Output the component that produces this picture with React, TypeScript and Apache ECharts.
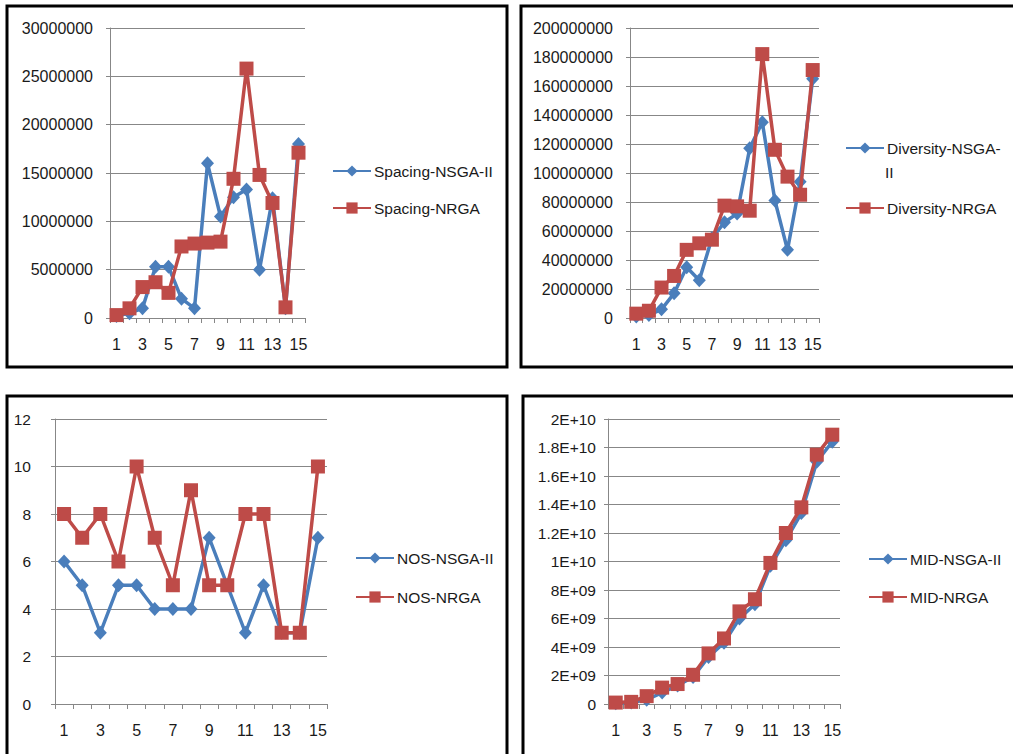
import React, { useEffect, useRef } from "react";
import * as echarts from "echarts";

const categories = ["1", "2", "3", "4", "5", "6", "7", "8", "9", "10", "11", "12", "13", "14", "15"];

const spacingNSGA = [200000, 500000, 1000000, 5300000, 5300000, 2000000, 1000000, 16000000, 10500000, 12500000, 13300000, 5000000, 12400000, 1000000, 18000000];
const spacingNRGA = [300000, 1000000, 3200000, 3700000, 2600000, 7400000, 7700000, 7800000, 7900000, 14400000, 25800000, 14800000, 11900000, 1100000, 17100000];

const diversityNSGA = [1000000, 2000000, 6000000, 17000000, 35000000, 26000000, 55000000, 66000000, 72000000, 117000000, 135000000, 81000000, 47000000, 94000000, 165000000];
const diversityNRGA = [3000000, 5000000, 21000000, 29000000, 47000000, 51500000, 54000000, 77500000, 77000000, 74000000, 182000000, 116000000, 97500000, 85000000, 171000000];

const nosNSGA = [6, 5, 3, 5, 5, 4, 4, 4, 7, 5, 3, 5, 3, 3, 7];
const nosNRGA = [8, 7, 8, 6, 10, 7, 5, 9, 5, 5, 8, 8, 3, 3, 10];

const midNSGA = [0.05e9, 0.1e9, 0.3e9, 0.8e9, 1.3e9, 1.9e9, 3.3e9, 4.3e9, 6.0e9, 7.0e9, 9.7e9, 11.5e9, 13.4e9, 17.0e9, 18.4e9];
const midNRGA = [0.1e9, 0.15e9, 0.55e9, 1.15e9, 1.4e9, 2.05e9, 3.55e9, 4.6e9, 6.5e9, 7.35e9, 9.9e9, 12.0e9, 13.8e9, 17.5e9, 18.9e9];

const midTickLabels = ["0", "2E+09", "4E+09", "6E+09", "8E+09", "1E+10", "1.2E+10", "1.4E+10", "1.6E+10", "1.8E+10", "2E+10"];

const seriesNames = [
  ["Spacing-NSGA-II", "Spacing-NRGA"],
  ["Diversity-NSGA-II", "Diversity-NRGA"],
  ["NOS-NSGA-II", "NOS-NRGA"],
  ["MID-NSGA-II", "MID-NRGA"],
];

const BLUE = "#4A7EBB";
const RED = "#BE4B48";
const GRAY = "#878787";
const FONT = "Liberation Sans";
const TEXT = "#1a1a1a";

export default function App() {
  const ref = useRef<HTMLDivElement>(null);
  useEffect(() => {
    if (!ref.current) return;
    const chart = echarts.init(ref.current, undefined, { renderer: "svg" });

    const grids = [
      { left: 110, top: 28, width: 195, height: 290 },
      { left: 630, top: 28, width: 189, height: 290 },
      { left: 55, top: 419, width: 272, height: 285 },
      { left: 608, top: 419, width: 232, height: 285 },
    ];

    const yConf = [
      { max: 30000000, interval: 5000000, margin: 17, fontSize: 16, fmt: (v: number) => String(v) },
      { max: 200000000, interval: 20000000, margin: 17, fontSize: 16, fmt: (v: number) => String(v) },
      { max: 12, interval: 2, margin: 24, fontSize: 15.5, fmt: (v: number) => String(v) },
      { max: 2e10, interval: 2e9, margin: 12, fontSize: 15.5, fmt: (v: number) => midTickLabels[Math.round(v / 2e9)] },
    ];

    const xAxis = grids.map((_, i) => ({
      type: "category",
      gridIndex: i,
      data: categories,
      boundaryGap: true,
      axisLine: { show: true, lineStyle: { color: GRAY, width: 1 } },
      axisTick: { show: true, interval: 0, length: 5, lineStyle: { color: GRAY } },
      axisLabel: { interval: 1, margin: 18, fontSize: 16, color: TEXT, fontFamily: FONT },
      splitLine: { show: false },
    }));

    const yAxis = yConf.map((c, i) => ({
      type: "value",
      gridIndex: i,
      min: 0,
      max: c.max,
      interval: c.interval,
      axisLine: { show: true, lineStyle: { color: GRAY, width: 1 } },
      axisTick: { show: true, length: 4, lineStyle: { color: GRAY } },
      axisLabel: { margin: c.margin, fontSize: c.fontSize, color: TEXT, fontFamily: FONT, formatter: c.fmt },
      splitLine: { show: true, lineStyle: { color: GRAY, width: 1 } },
    }));

    const dataSets = [
      [spacingNSGA, spacingNRGA],
      [diversityNSGA, diversityNRGA],
      [nosNSGA, nosNRGA],
      [midNSGA, midNRGA],
    ];

    const series: any[] = [];
    dataSets.forEach((pair, i) => {
      series.push({
        type: "line",
        name: seriesNames[i][0],
        xAxisIndex: i,
        yAxisIndex: i,
        data: pair[0],
        symbol: "diamond",
        symbolSize: [13, 14],
        showSymbol: true,
        showAllSymbol: true,
        lineStyle: { color: BLUE, width: 3.5 },
        itemStyle: { color: BLUE },
        z: 2,
      });
      series.push({
        type: "line",
        name: seriesNames[i][1],
        xAxisIndex: i,
        yAxisIndex: i,
        data: pair[1],
        symbol: "rect",
        symbolSize: 14,
        showSymbol: true,
        showAllSymbol: true,
        lineStyle: { color: RED, width: 3.5 },
        itemStyle: { color: RED },
        z: 3,
      });
    });

    const legendPos = [
      { left: 332, top: 163, gap: 21 },
      { left: 845, top: 140, gap: 44 },
      { left: 355, top: 550, gap: 23 },
      { left: 868, top: 551, gap: 22 },
    ];

    const legend = legendPos.map((p, i) => ({
      orient: "vertical",
      left: p.left,
      top: p.top,
      itemGap: p.gap,
      itemWidth: 38,
      itemHeight: 14,
      padding: 0,
      data: seriesNames[i],
      formatter: (name: string) => (name === "Diversity-NSGA-II" ? "Diversity-NSGA-" : name),
      textStyle: { fontSize: 15.5, color: TEXT, fontFamily: FONT, padding: [0, 0, 0, -2] },
      selectedMode: false,
    }));

    const border = { stroke: "#000", lineWidth: 3, fill: "none" };

    chart.setOption({
      animation: false,
      backgroundColor: "#fff",
      grid: grids,
      xAxis,
      yAxis,
      legend,
      series,
      graphic: [
        { type: "rect", shape: { x: 7, y: 6, width: 500, height: 361 }, style: border, silent: true },
        { type: "rect", shape: { x: 521, y: 6, width: 520, height: 361 }, style: border, silent: true },
        { type: "rect", shape: { x: 7, y: 396, width: 500, height: 400 }, style: border, silent: true },
        { type: "rect", shape: { x: 523, y: 396, width: 520, height: 400 }, style: border, silent: true },
        {
          type: "text",
          left: 885,
          top: 164,
          style: { text: "II", fontSize: 15.5, fill: TEXT, fontFamily: FONT },
          silent: true,
        },
      ],
    });

    return () => chart.dispose();
  }, []);

  return (
    <div
      ref={ref}
      style={{ position: "fixed", left: 0, top: 0, width: 1013, height: 754, background: "#fff" }}
    />
  );
}
